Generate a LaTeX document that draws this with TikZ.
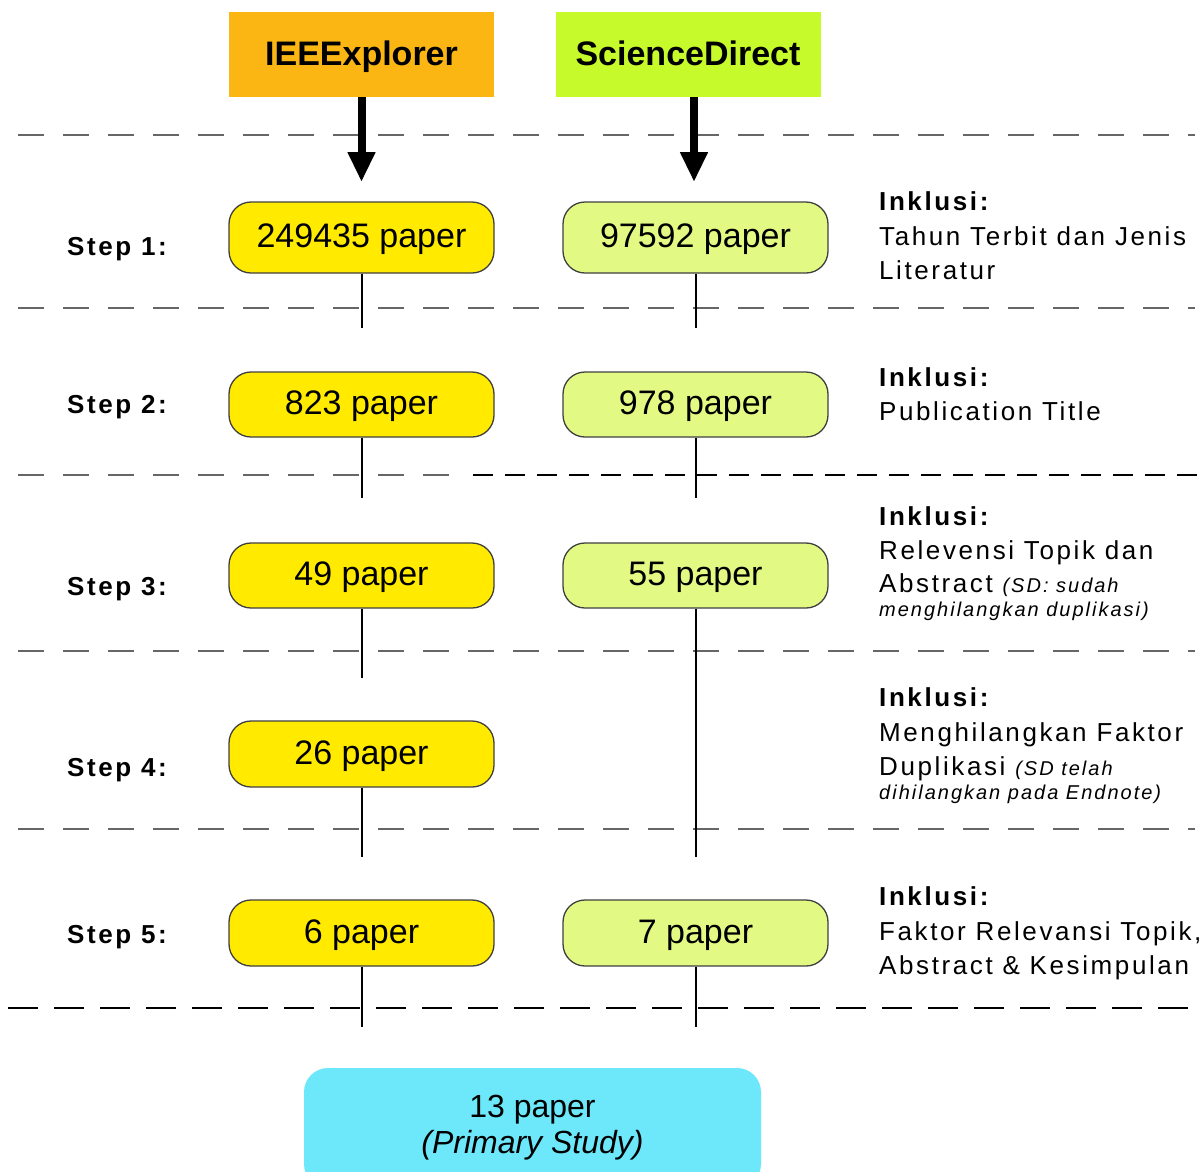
\documentclass[tikz,border=0pt]{standalone}
\usepackage{fontspec}
\setmainfont{Liberation Sans}
\newfontfamily\lsf[LetterSpace=10]{Liberation Sans}
\usetikzlibrary{arrows.meta}
\definecolor{srcorange}{HTML}{FBB614}
\definecolor{srclime}{HTML}{C6FA2A}
\definecolor{boxyellow}{HTML}{FFEA00}
\definecolor{boxgreen}{HTML}{E2FA84}
\definecolor{boxcyan}{HTML}{6CE8FA}
\tikzset{
  srcbox/.style={minimum width=265pt, minimum height=85pt, inner sep=0pt,
    text height=27pt, text depth=5.5pt,
    font=\fontsize{34}{40}\selectfont\bfseries},
  paperbox/.style={rounded corners=22pt, draw=black!75, line width=1.3pt,
    minimum width=265pt, inner sep=0pt, text height=26pt, text depth=6pt,
    font=\fontsize{34}{40}\selectfont},
  ybox/.style={paperbox, fill=boxyellow},
  gbox/.style={paperbox, fill=boxgreen},
  steplabel/.style={anchor=base west, inner sep=0pt, font=\lsf\fontsize{26}{30}\selectfont\bfseries},
  inkhead/.style={anchor=base west, inner sep=0pt, font=\lsf\fontsize{26}{30}\selectfont\bfseries},
  inktext/.style={anchor=base west, inner sep=0pt, font=\lsf\fontsize{26}{30}\selectfont},
  smallit/.style={font=\lsf\fontsize{20}{24}\selectfont\itshape},
  finedash/.style={draw=black!60, line width=1.2pt, dash pattern=on 26pt off 19pt},
  longdash/.style={draw=black, line width=1.2pt, dash pattern=on 20pt off 12pt},
  bigdash/.style={draw=black, line width=1.3pt, dash pattern=on 30pt off 16pt},
  link/.style={draw=black, line width=2pt},
  bigarrow/.style={draw=black, line width=8pt, -{Triangle[length=30pt,width=26pt]}}
}
\begin{document}
\begin{tikzpicture}[x=1pt,y=-1pt]
\useasboundingbox (0,0) rectangle (1203,1171);
\fill[white] (0,0) rectangle (1203,1171);

% separators
\draw[finedash] (18,135) -- (1195,135);
\draw[finedash] (18,308) -- (1195,308);
\draw[finedash] (18,475) -- (460,475);
\draw[longdash] (473,475) -- (1200,475);
\draw[finedash] (18,651) -- (1195,651);
\draw[finedash] (18,829) -- (1195,829);
\draw[bigdash] (8,1008) -- (1203,1008);

% sources
\node[srcbox, fill=srcorange] (ieee) at (361.5,54.5) {IEEExplorer};
\node[srcbox, fill=srclime] (sd) at (688,54.5) {ScienceDirect};

% paper boxes
\node[ybox, minimum height=71pt] (l1) at (361.5,237.5) {249435 paper};
\node[gbox, minimum height=71pt] (r1) at (695.5,237.5) {97592 paper};
\node[ybox, minimum height=65pt] (l2) at (361.5,404.5) {823 paper};
\node[gbox, minimum height=65pt] (r2) at (695.5,404.5) {978 paper};
\node[ybox, minimum height=65pt] (l3) at (361.5,575.5) {49 paper};
\node[gbox, minimum height=65pt] (r3) at (695.5,575.5) {55 paper};
\node[ybox, minimum height=66pt] (l4) at (361.5,754) {26 paper};
\node[ybox, minimum height=66pt] (l5) at (361.5,933) {6 paper};
\node[gbox, minimum height=66pt] (r5) at (695.5,933) {7 paper};

\node[rounded corners=24pt, fill=boxcyan, minimum width=457pt, minimum height=120pt,
  inner sep=0pt, align=center, font=\fontsize{32}{36}\selectfont] (final) at (532.5,1128)
  {13 paper\\\textit{(Primary Study)}};

% arrows from sources
\coordinate (ieeetip) at (361.5,182);
\coordinate (sdtip) at (694,182);
\draw[bigarrow] (ieee.south) -- (ieeetip);
\draw[bigarrow] (sd.south -| sdtip) -- (sdtip);

% connector stubs
\coordinate (l1e) at (361.5,328);
\coordinate (l2e) at (361.5,498);
\coordinate (l3e) at (361.5,678);
\coordinate (l4e) at (361.5,857);
\coordinate (l5e) at (361.5,1027);
\coordinate (r1e) at (695.5,328);
\coordinate (r2e) at (695.5,498);
\coordinate (r3e) at (695.5,857);
\coordinate (r5e) at (695.5,1027);
\draw[link] (l1.south) -- (l1e);
\draw[link] (l2.south) -- (l2e);
\draw[link] (l3.south) -- (l3e);
\draw[link] (l4.south) -- (l4e);
\draw[link] (l5.south) -- (l5e);
\draw[link] (r1.south) -- (r1e);
\draw[link] (r2.south) -- (r2e);
\draw[link] (r3.south) -- (r3e);
\draw[link] (r5.south) -- (r5e);

% step labels
\node[steplabel] (s1) at (67,255) {Step 1:};
\node[steplabel] (s2) at (67,413) {Step 2:};
\node[steplabel] (s3) at (67,595) {Step 3:};
\node[steplabel] (s4) at (67,776) {Step 4:};
\node[steplabel] (s5) at (67,943) {Step 5:};

% inclusion criteria
\node[inkhead] (i1h) at (879,210) {Inklusi:};
\node[inktext] (i1a) at (879,245) {Tahun Terbit dan Jenis};
\node[inktext] (i1b) at (879,279) {Literatur};

\node[inkhead] (i2h) at (879,386) {Inklusi:};
\node[inktext] (i2a) at (879,420) {Publication Title};

\node[inkhead] (i3h) at (879,525) {Inklusi:};
\node[inktext] (i3a) at (879,559) {Relevensi Topik dan};
\node[inktext] (i3b) at (879,592) {Abstract {\fontsize{20}{24}\selectfont\itshape (SD: sudah}};
\node[inktext, smallit] (i3c) at (879,616) {menghilangkan duplikasi)};

\node[inkhead] (i4h) at (879,706) {Inklusi:};
\node[inktext] (i4a) at (879,741) {Menghilangkan Faktor};
\node[inktext] (i4b) at (879,775) {Duplikasi {\fontsize{20}{24}\selectfont\itshape (SD telah}};
\node[inktext, smallit] (i4c) at (879,799) {dihilangkan pada Endnote)};

\node[inkhead] (i5h) at (879,905) {Inklusi:};
\node[inktext] (i5a) at (879,940) {Faktor Relevansi Topik,};
\node[inktext] (i5b) at (879,974) {Abstract \& Kesimpulan};
\end{tikzpicture}
\end{document}
